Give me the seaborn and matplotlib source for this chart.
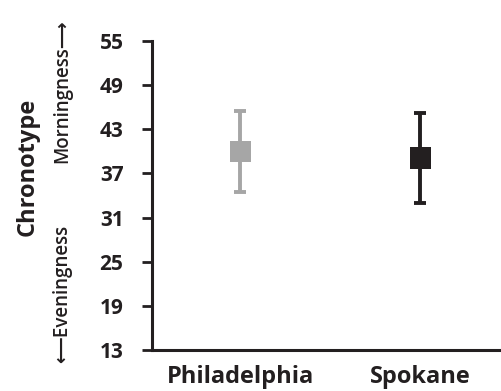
import matplotlib
matplotlib.use("Agg")
import matplotlib.pyplot as plt
import seaborn as sns
import pandas as pd

# Chronotype scores by city
cities = ["Philadelphia", "Spokane"]
means = [40.0, 39.1]
errors = [5.5, 6.1]
colors = ["#A6A6A6", "#231F20"]
yticks = [13, 19, 25, 31, 37, 43, 49, 55]

sns.set_style("white")
plt.rcParams["font.family"] = ["Open Sans", "DejaVu Sans"]

df = pd.DataFrame({"city": cities, "score": means, "err": errors})

fig = plt.figure(figsize=(5.01, 3.91), dpi=100)
ax = fig.add_axes([0.3034, 0.105, 0.6966, 0.79])

for i, row in df.iterrows():
    ax.errorbar(i, row["score"], yerr=row["err"], fmt="none",
                ecolor=colors[i], elinewidth=2.8, capsize=4.5, capthick=2.8, zorder=2)

sns.scatterplot(data=df, x="city", y="score", hue="city", palette=colors,
                marker="s", s=230, linewidth=0, legend=False, ax=ax, zorder=3)

ax.set_ylim(13, 55)
ax.set_xlim(-0.49, 1.45)
ax.set_yticks(yticks)
ax.set_yticklabels([str(t) for t in yticks], fontsize=15, fontweight="bold", color="#231F20")
ax.set_xticks([0, 1])
ax.set_xticklabels(cities, fontsize=17, fontweight="bold", color="#231F20")
ax.tick_params(axis="y", direction="out", length=7, width=2, color="#231F20", pad=13.5, left=True)
ax.tick_params(axis="x", length=0, pad=11)
ax.set_xlabel("")
ax.set_ylabel("")

for side in ["top", "right"]:
    ax.spines[side].set_visible(False)
for side in ["left", "bottom"]:
    ax.spines[side].set_linewidth(2.2)
    ax.spines[side].set_color("#231F20")

fig.text(0.055, 0.574, "Chronotype", rotation=90, ha="center", va="center",
         fontsize=17, fontweight="bold", color="#231F20")
fig.text(0.124, 0.767, "Morningness\u27f6", rotation=90, ha="center", va="center",
         fontsize=13.5, fontweight="semibold", color="#231F20")
fig.text(0.124, 0.249, "\u27f5Eveningness", rotation=90, ha="center", va="center",
         fontsize=13.5, fontweight="semibold", color="#231F20")

fig.savefig("out.png", dpi=100)
